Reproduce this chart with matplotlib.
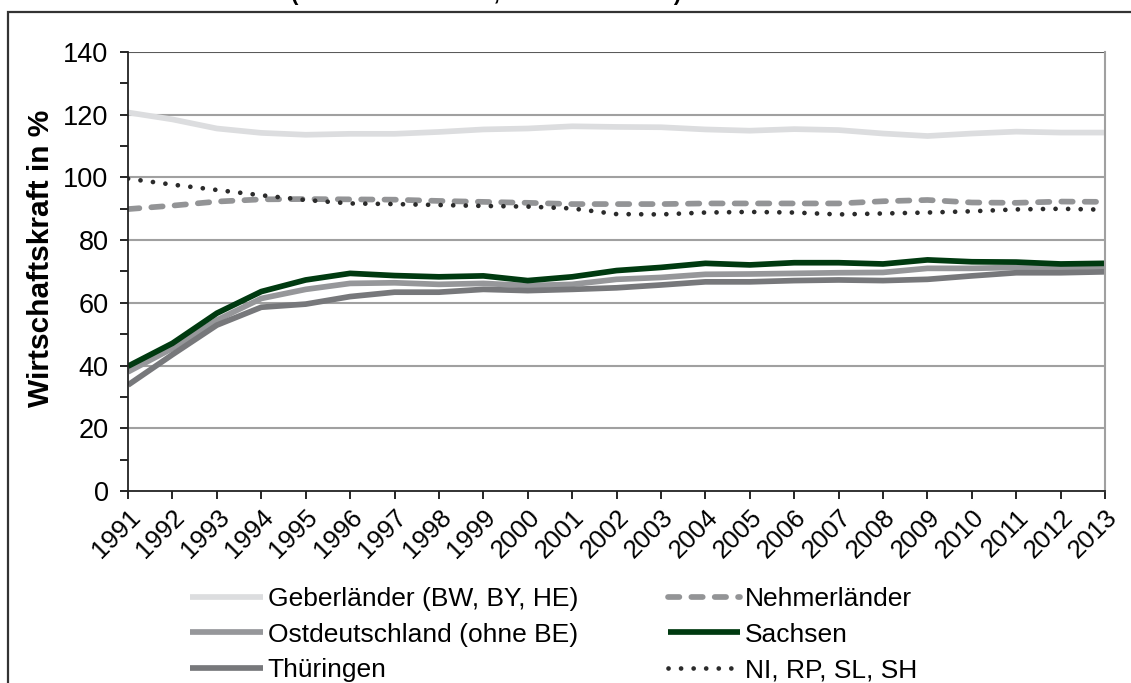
import matplotlib
matplotlib.use("Agg")
import matplotlib.pyplot as plt
from matplotlib.patches import Rectangle
from matplotlib.ticker import MultipleLocator

plt.rcParams["font.family"] = ["Liberation Sans", "DejaVu Sans"]

YEARS = list(range(1991, 2014))

GEBER = [120.7, 118.5, 115.6, 114.2, 113.6, 113.9, 113.9, 114.5, 115.3, 115.6, 116.3, 116.1,
         116.0, 115.3, 114.9, 115.4, 115.1, 114.0, 113.2, 114.0, 114.6, 114.3, 114.3]
NEHMER = [89.9, 91.0, 92.3, 93.0, 93.1, 93.0, 92.9, 92.5, 92.2, 91.9, 91.5, 91.5,
          91.5, 91.7, 91.7, 91.7, 91.7, 92.4, 92.8, 92.0, 91.9, 92.3, 92.2]
OST = [38.0, 45.5, 54.5, 61.4, 64.3, 66.2, 66.4, 65.9, 66.2, 65.5, 65.9, 67.5,
       68.1, 69.1, 69.2, 69.4, 69.6, 69.7, 71.0, 71.0, 71.3, 71.3, 71.5]
SACHSEN = [39.8, 47.1, 56.7, 63.6, 67.3, 69.4, 68.7, 68.3, 68.6, 67.1, 68.3, 70.3,
           71.3, 72.6, 72.1, 72.8, 72.8, 72.4, 73.7, 73.1, 73.0, 72.4, 72.6]
THUER = [33.8, 43.5, 52.9, 58.6, 59.6, 62.0, 63.4, 63.4, 64.3, 63.9, 64.3, 64.8,
         65.7, 66.7, 66.7, 67.1, 67.3, 67.1, 67.5, 68.6, 69.6, 69.6, 69.9]
NIRPSLSH = [99.6, 97.7, 96.0, 94.3, 92.8, 91.7, 91.5, 91.2, 90.9, 90.7, 90.1, 88.3,
            88.2, 88.8, 89.0, 88.8, 88.2, 88.5, 88.8, 89.2, 89.8, 90.0, 89.7]

LABELS = ["Geberländer (BW, BY, HE)", "Nehmerländer", "Ostdeutschland (ohne BE)",
          "Sachsen", "Thüringen", "NI, RP, SL, SH"]

fig = plt.figure(figsize=(11.31, 6.83), dpi=100)
ax = fig.add_axes([0.1132, 0.2811, 0.8639, 0.6428])

lw = 4.1
l_geber, = ax.plot(YEARS, GEBER, color="#dcdddf", lw=lw, solid_capstyle="butt")
l_nehmer, = ax.plot(YEARS, NEHMER, color="#939496", lw=lw, dashes=(2.0, 2.1),
                    dash_capstyle="round")
l_ost, = ax.plot(YEARS, OST, color="#96979a", lw=lw, solid_capstyle="butt")
l_sachsen, = ax.plot(YEARS, SACHSEN, color="#003a10", lw=lw, solid_capstyle="butt")
l_thuer, = ax.plot(YEARS, THUER, color="#77787b", lw=lw, solid_capstyle="butt")
l_ni, = ax.plot(YEARS, NIRPSLSH, color="#2b2b2b", lw=3.4, dashes=(0.01, 2.65),
                dash_capstyle="round")

ax.set_xlim(1991, 2013)
ax.set_ylim(0, 140)
ax.set_xticks(YEARS)
ax.set_xticklabels([str(y) for y in YEARS], rotation=45, ha="right",
                   rotation_mode="anchor", fontsize=18.5)
ax.yaxis.set_major_locator(MultipleLocator(20))
ax.yaxis.set_minor_locator(MultipleLocator(10))
ax.tick_params(axis="y", which="both", direction="out", length=6, width=1.2,
               labelsize=19.5, pad=8)
ax.tick_params(axis="x", direction="out", length=6, width=1.2, pad=4)

for v in range(20, 141, 20):
    ax.axhline(v, color="#a0a0a0" if v < 140 else "#5a5a5a", lw=1.5, zorder=0.5)

ax.spines["top"].set_visible(False)
ax.spines["right"].set_color("#a0a0a0")
ax.spines["right"].set_linewidth(1.5)
ax.spines["left"].set_color("#222222")
ax.spines["left"].set_linewidth(1.3)
ax.spines["bottom"].set_color("#222222")
ax.spines["bottom"].set_linewidth(1.3)

ax.set_ylabel("Wirtschaftskraft in %", fontsize=21.5, fontweight="bold")
ax.yaxis.set_label_coords(-0.0747, 0.53)

handles = [l_geber, l_ost, l_thuer, l_nehmer, l_sachsen, l_ni]
labels = [LABELS[0], LABELS[2], LABELS[4], LABELS[1], LABELS[3], LABELS[5]]
fig.legend(handles, labels, ncol=2, loc="upper left",
           bbox_to_anchor=(0.168, 0.1407), frameon=False, fontsize=19,
           handlelength=2.75, handletextpad=0.19, labelspacing=0.44,
           columnspacing=3.4, borderaxespad=0, borderpad=0)

# outer frame, cut off on the right and at the bottom like the source image
fig.patches.append(Rectangle((8 / 1131, -0.2), 1.2, 0.2 + 1 - 12 / 683,
                             transform=fig.transFigure, fill=False,
                             edgecolor="#333333", lw=1.6))

# title sits above the visible area, only its descenders show
fig.text(0.43, 1.0, "(Deutschland = 100, Stand: Mai 2014)", ha="center",
         va="baseline", fontsize=16, fontweight="bold")

fig.savefig("out.png", dpi=100)
